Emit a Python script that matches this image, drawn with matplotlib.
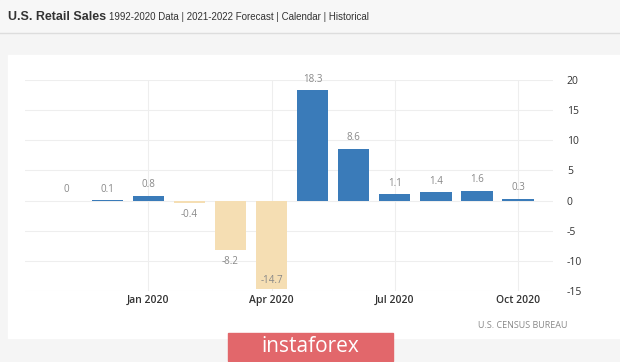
import matplotlib
matplotlib.use("Agg")
import matplotlib.pyplot as plt
from matplotlib.patches import Rectangle

months = ["Nov 2019", "Dec 2019", "Jan 2020", "Feb 2020", "Mar 2020", "Apr 2020",
          "May 2020", "Jun 2020", "Jul 2020", "Aug 2020", "Sep 2020", "Oct 2020"]
values = [0, 0.1, 0.8, -0.4, -8.2, -14.7, 18.3, 8.6, 1.1, 1.4, 1.6, 0.3]
tick_labels = ["Jan 2020", "Apr 2020", "Jul 2020", "Oct 2020"]
yticks = [-15, -10, -5, 0, 5, 10, 15, 20]

BLUE = "#3a7bb9"
BEIGE = "#f5deb3"

W, H = 620, 362
fig = plt.figure(figsize=(W / 100, H / 100), dpi=100)
fig.patch.set_facecolor("#f5f5f5")

def px(x0, y0, x1, y1):
    # pixel box (top-left origin) -> figure fraction rect
    return [x0 / W, 1 - y1 / H, (x1 - x0) / W, (y1 - y0) / H]

# title bar + white panel
bg = fig.add_axes([0, 0, 1, 1], zorder=-5)
bg.set_xlim(0, W)
bg.set_ylim(H, 0)
bg.axis("off")
bg.add_patch(Rectangle((0, 0), W, 33, color="#f7f7f7"))
bg.plot([0, W], [33, 33], color="#dddddd", lw=1)
bg.add_patch(Rectangle((8, 55), W - 8, 283, color="white"))
bg.text(8, 17, "U.S. Retail Sales", fontsize=9, fontweight="bold", color="#333333",
        va="center", family="Liberation Sans")
bg.text(109, 17, "1992-2020 Data | 2021-2022 Forecast | Calendar | Historical",
        fontsize=7, color="#333333", va="center", family="Liberation Sans")
bg.text(568, 325, "U.S. CENSUS BUREAU", fontsize=6.5, color="#888888",
        ha="right", va="center", family="Open Sans")
bg.add_patch(Rectangle((228, 333), 165, 28, color="#e2676b"))
bg.text(310, 347, "instaforex", fontsize=15, color="white", ha="center", va="center",
        family="Open Sans")

ax = fig.add_axes(px(25, 80, 553, 291))
x = list(range(len(values)))
colors = [BLUE if v >= 0 else BEIGE for v in values]
ax.bar(x, values, width=0.76, color=colors, zorder=3)
ax.set_xlim(-1.0, 11.85)
ax.set_ylim(-15, 20)
ax.set_yticks(yticks)
ax.set_xticks([months.index(t) for t in tick_labels])
ax.set_xticklabels(tick_labels, fontsize=7.5, color="#333333", family="Open Sans",
                   fontweight="semibold")
ax.set_yticklabels([str(v) for v in yticks], fontsize=7.5, color="#333333", family="Open Sans")
ax.yaxis.tick_right()
ax.tick_params(length=0, pad=10)
ax.tick_params(axis="x", pad=3)
ax.grid(True, color="#eeeeee", lw=0.8, zorder=0)
for s in ax.spines.values():
    s.set_visible(False)
ax.set_facecolor("white")

for i, v in enumerate(values):
    label = f"{v:g}"
    if v >= 0:
        ax.text(i, v + 0.9, label, ha="center", va="bottom", fontsize=7, color="#888888",
                family="Open Sans")
    elif v <= -14:
        ax.text(i, v + 0.6, label, ha="center", va="bottom", fontsize=7, color="#888888",
                family="Open Sans")
    else:
        ax.text(i, v - 1.0, label, ha="center", va="top", fontsize=7, color="#888888",
                family="Open Sans")

fig.savefig("out.png", dpi=100, facecolor=fig.get_facecolor())
